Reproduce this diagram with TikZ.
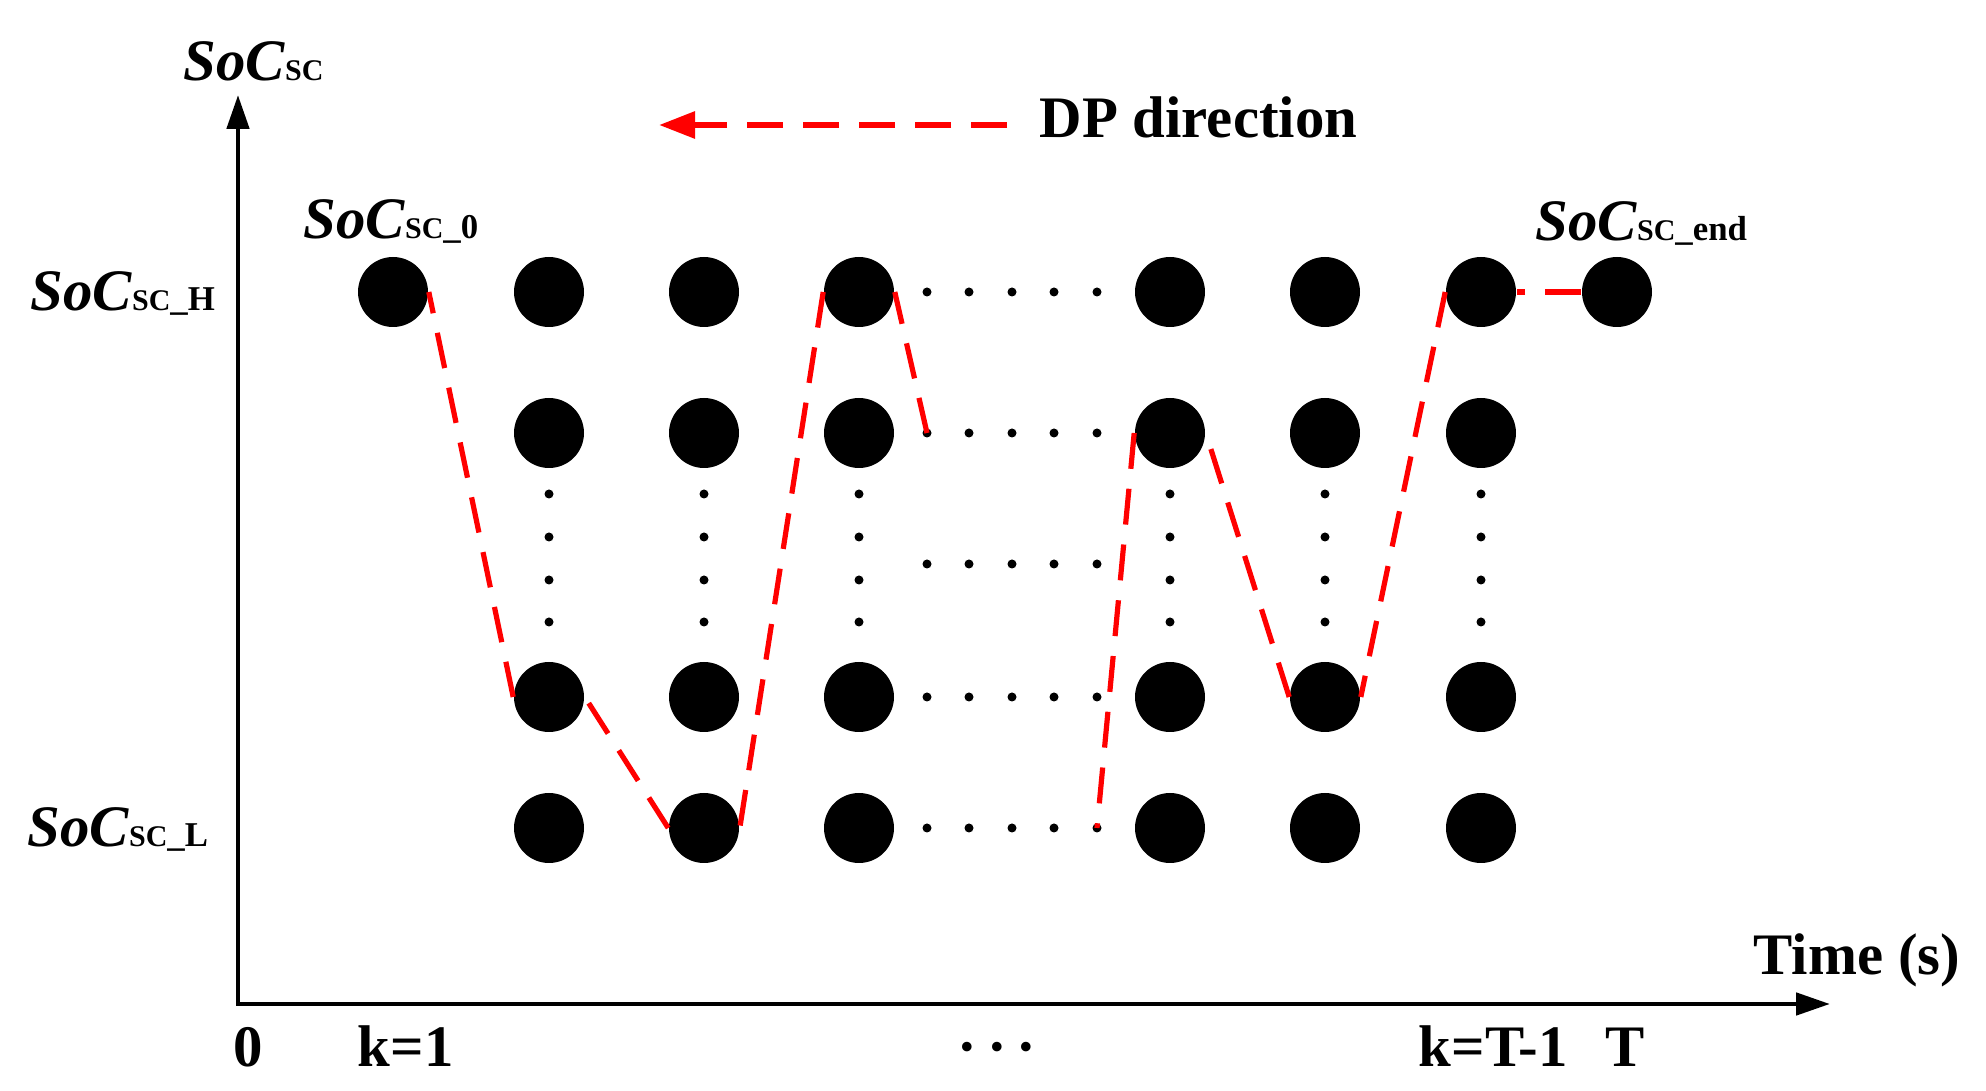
\documentclass[tikz,border=0pt]{standalone}
\usepackage{fontspec}
\setmainfont{Liberation Serif}
\usetikzlibrary{arrows.meta}
\newcommand{\socsub}[1]{{\itshape SoC}{\fontsize{7.5pt}{9pt}\selectfont SC}{\fontsize{8.7pt}{10pt}\selectfont #1}}
\newcommand{\mydots}{\textperiodcentered\hspace{2.5pt}\textperiodcentered\hspace{2.5pt}\textperiodcentered}
\begin{document}
\begin{tikzpicture}[x=0.25pt,y=-0.25pt,
  state/.style={circle,fill=black,inner sep=0pt,minimum size=17.5pt},
  lbl/.style={inner sep=0pt,font=\fontsize{14.7pt}{16pt}\selectfont\bfseries},
  axis/.style={line width=1.2pt,{Triangle[length=8.5pt,width=5.5pt]}-{Triangle[length=8.5pt,width=5.5pt]}},
  dp/.style={red,line width=1.3pt,dash pattern=on 9pt off 5pt},
  dparrow/.style={red,line width=1.5pt,dash pattern=on 9pt off 5pt,-{Triangle[length=9pt,width=6.5pt]}},
]
\useasboundingbox (0,0) rectangle (1986,1091);
% axes
\coordinate (O) at (238,1004);
\coordinate (ytip) at (238,95);
\coordinate (xtip) at (1830,1004);
\draw[axis] (ytip) -- (O) -- (xtip);
% grid nodes
\node[state] (n1H) at (393,292) {};
\foreach \c/\x in {2/549,3/704,4/859,5/1170,6/1325,7/1481} {
  \node[state] (n\c H) at (\x,292) {};
  \node[state] (n\c M) at (\x,433) {};
  \node[state] (n\c B) at (\x,697) {};
  \node[state] (n\c L) at (\x,828) {};
}
\node[state] (n8H) at (1617,292) {};
% horizontal dots
\foreach \y [count=\r] in {292,433,564,697,828}
  \foreach \x [count=\i] in {927,969,1012,1054,1097}
    \fill (\x,\y) coordinate (h\r\i) circle (1.125pt);
% vertical dots
\foreach \x in {549,704,859,1170,1325,1481}
  \foreach \y in {494,537,580,622}
    \fill (\x,\y) circle (1.125pt);
% DP path
\draw[dp] (n2B.west) -- (n1H.east);
\draw[dp] (n3L.west) -- (n2B.east);
\draw[dp] (n4H.west) -- (n3L.east);
\draw[dp] (h21) -- (n4H.east);
\draw[dp] (n5M.west) -- (h55);
\draw[dp] (n6B.west) -- (n5M.east);
\draw[dp] (n7H.west) -- (n6B.east);
\draw[dp] (n8H.west) -- (n7H.east);
% DP direction arrow
\coordinate (dpS) at (1007,125);
\coordinate (dpE) at (659,125);
\draw[dparrow] (dpS) -- (dpE);
\node[lbl,anchor=base west] (dptext) at (1039,138) {DP direction};
% labels
\node[lbl,anchor=base west] (ylab) at (183,81) {\socsub{}};
\node[lbl,anchor=base west] (l0) at (303,239) {\socsub{\_0}};
\node[lbl,anchor=base west] (lH) at (30,311) {\socsub{\_H}};
\node[lbl,anchor=base west] (lL) at (27,846) {\socsub{\_L}};
\node[lbl,anchor=base west] (lend) at (1535,241) {\socsub{\_end}};
\node[lbl,anchor=base west] (xlab) at (1753,975) {Time (s)};
\node[lbl,anchor=base west] (t0) at (233,1066) {0};
\node[lbl,anchor=base west] (t1) at (357,1066) {k=1};
\node[lbl,anchor=base] (tdots) at (997,1066) {\mydots};
\node[lbl,anchor=base west] (tT1) at (1418,1066) {k=T-1};
\node[lbl,anchor=base west] (tT) at (1605,1066) {T};
\end{tikzpicture}
\end{document}
